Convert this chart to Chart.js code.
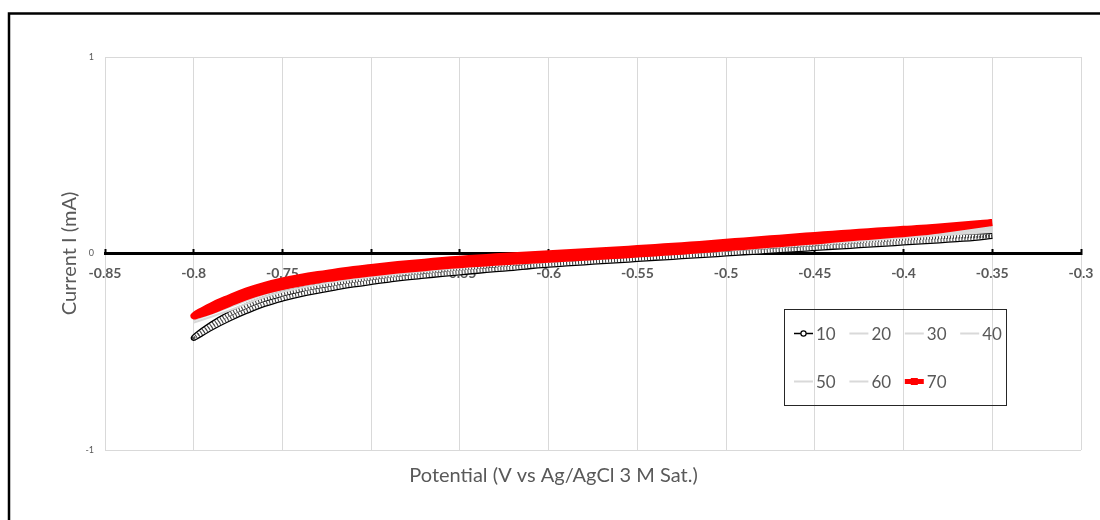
<!DOCTYPE html>
<html>
<head>
<meta charset="utf-8">
<script src="https://cdn.jsdelivr.net/npm/chart.js@4.4.1/dist/chart.umd.min.js"></script>
<style>
  html, body { margin: 0; padding: 0; background: #ffffff; }
  canvas { display: block; }
</style>
</head>
<body>
<canvas id="cv" width="1100" height="520"></canvas>
<script>
// Potential sweep (V vs Ag/AgCl), 10 mV steps between the vertex potentials
const potential = [
  -0.80, -0.79, -0.78, -0.77, -0.76, -0.75, -0.74, -0.73, -0.72, -0.71,
  -0.70, -0.69, -0.68, -0.67, -0.66, -0.65, -0.64, -0.63, -0.62, -0.61,
  -0.60, -0.59, -0.58, -0.57, -0.56, -0.55, -0.54, -0.53, -0.52, -0.51,
  -0.50, -0.49, -0.48, -0.47, -0.46, -0.45, -0.44, -0.43, -0.42, -0.41,
  -0.40, -0.39, -0.38, -0.37, -0.36, -0.35
];

// Scan "10": current (mA) on the cathodic and anodic sweeps
const i10Cathodic = [
  -0.429, -0.377, -0.331, -0.291, -0.256, -0.229, -0.207, -0.189, -0.173, -0.158,
  -0.145, -0.133, -0.122, -0.113, -0.104, -0.096, -0.088, -0.080, -0.073, -0.064,
  -0.057, -0.051, -0.045, -0.039, -0.034, -0.028, -0.022, -0.017, -0.011, -0.006,
   0.000,  0.006,  0.011,  0.017,  0.022,  0.028,  0.034,  0.039,  0.045,  0.050,
   0.056,  0.061,  0.067,  0.073,  0.079,  0.089
];
const i10Anodic = [
  -0.429, -0.362, -0.309, -0.267, -0.232, -0.206, -0.185, -0.167, -0.152, -0.137,
  -0.124, -0.113, -0.102, -0.093, -0.084, -0.076, -0.068, -0.060, -0.053, -0.044,
  -0.037, -0.031, -0.025, -0.019, -0.014, -0.008, -0.002,  0.003,  0.009,  0.014,
   0.020,  0.026,  0.031,  0.037,  0.042,  0.048,  0.054,  0.059,  0.064,  0.069,
   0.074,  0.078,  0.082,  0.085,  0.087,  0.089
];

// Scan "70"
const i70Cathodic = [
  -0.317, -0.291, -0.254, -0.218, -0.190, -0.168, -0.150, -0.135, -0.122, -0.109,
  -0.099, -0.089, -0.080, -0.072, -0.064, -0.057, -0.051, -0.045, -0.039, -0.034,
  -0.029, -0.024, -0.019, -0.014, -0.009, -0.003,  0.003,  0.009,  0.015,  0.022,
   0.029,  0.036,  0.043,  0.050,  0.057,  0.064,  0.072,  0.080,  0.087,  0.094,
   0.101,  0.109,  0.120,  0.132,  0.145,  0.157
];
const i70Anodic = [
  -0.317, -0.266, -0.226, -0.190, -0.162, -0.140, -0.122, -0.107, -0.094, -0.081,
  -0.071, -0.061, -0.052, -0.044, -0.036, -0.029, -0.023, -0.017, -0.011, -0.006,
  -0.001,  0.004,  0.009,  0.014,  0.019,  0.025,  0.031,  0.037,  0.043,  0.050,
   0.057,  0.064,  0.071,  0.078,  0.085,  0.092,  0.098,  0.105,  0.111,  0.117,
   0.123,  0.128,  0.135,  0.142,  0.150,  0.157
];

// Scans "20" to "60" on a coarser potential grid
const potentialCoarse = [-0.80, -0.78, -0.76, -0.74, -0.72, -0.70, -0.65, -0.60, -0.55, -0.50, -0.45, -0.40, -0.35];
const i20 = [-0.352, -0.290, -0.220, -0.175, -0.143, -0.118, -0.072, -0.042, -0.014, 0.016, 0.048, 0.080, 0.110];
const i30 = [-0.340, -0.273, -0.207, -0.165, -0.135, -0.111, -0.067, -0.038, -0.010, 0.021, 0.054, 0.087, 0.120];
const i40 = [-0.333, -0.264, -0.199, -0.158, -0.130, -0.106, -0.063, -0.035, -0.007, 0.024, 0.058, 0.092, 0.128];
const i50 = [-0.327, -0.259, -0.194, -0.153, -0.126, -0.103, -0.060, -0.032, -0.005, 0.027, 0.061, 0.096, 0.135];
const i60 = [-0.322, -0.256, -0.191, -0.151, -0.123, -0.100, -0.058, -0.030, -0.003, 0.029, 0.063, 0.099, 0.142];

const seriesLabels = ['10', '20', '30', '40', '50', '60', '70'];

const xTicks = [-0.85, -0.80, -0.75, -0.70, -0.65, -0.60, -0.55, -0.50, -0.45, -0.40, -0.35, -0.30];
const xTickLabels = ['-0.85', '-0.8', '-0.75', '-0.7', '-0.65', '-0.6', '-0.55', '-0.5', '-0.45', '-0.4', '-0.35', '-0.3'];
const yTicks = [-1, 0, 1];
const yTickLabels = ['-1', '0', '1'];

// Sweep from the upper vertex down to -0.8 V, then back up
function cycle(xs, cathodic, anodic) {
  const down = xs.map((x, i) => ({ x, y: cathodic[i] })).reverse();
  const up = xs.map((x, i) => ({ x, y: anodic[i] }));
  return down.concat(up.slice(1));
}
function sweep(xs, ys) {
  return xs.map((x, i) => ({ x, y: ys[i] }));
}

const GRAY = '#d9d9d9';
const TEXT = '#595959';

const cycle10 = cycle(potential, i10Cathodic, i10Anodic);
const cycle70 = cycle(potential, i70Cathodic, i70Anodic);

const datasets = [
  { label: '70', data: cycle70, borderColor: '#ff0000', borderWidth: 7, order: 0,
    legendMarker: 'rect', legendWidth: 5 },
  { label: '60', data: sweep(potentialCoarse, i60), borderColor: GRAY, borderWidth: 2, order: 1 },
  { label: '50', data: sweep(potentialCoarse, i50), borderColor: GRAY, borderWidth: 2, order: 2 },
  { label: '40', data: sweep(potentialCoarse, i40), borderColor: GRAY, borderWidth: 2, order: 3 },
  { label: '30', data: sweep(potentialCoarse, i30), borderColor: GRAY, borderWidth: 2, order: 4 },
  { label: '20', data: sweep(potentialCoarse, i20), borderColor: GRAY, borderWidth: 2, order: 5 },
  // scan 10 drawn as a chain of open circles: outline, white core, hatch
  { label: '10', data: cycle10, borderColor: '#000000', borderWidth: 6.2, order: 12,
    legendMarker: 'circle', legendWidth: 1.5 },
  { label: '10 core', data: cycle10, borderColor: '#ffffff', borderWidth: 3.6, order: 11 },
  { label: '10 hatch', data: cycle10, borderColor: 'rgba(0,0,0,0.75)', borderWidth: 3.6,
    borderDash: [1.1, 1.9], order: 10 }
];
datasets.forEach(d => {
  d.pointRadius = 0;
  d.pointHoverRadius = 0;
  d.fill = false;
  d.tension = 0.4;
});

// Boxed legend, four entries per row
const boxedLegend = {
  id: 'boxedLegend',
  afterDraw(chart) {
    const ctx = chart.ctx;
    const box = { x: 784.5, y: 309.5, w: 222, h: 96 };
    ctx.save();
    ctx.strokeStyle = '#262626';
    ctx.lineWidth = 1;
    ctx.strokeRect(box.x, box.y, box.w, box.h);
    ctx.font = '17px Lato';
    ctx.textBaseline = 'middle';
    ctx.textAlign = 'left';
    seriesLabels.forEach((name, k) => {
      const ds = chart.data.datasets.find(d => d.label === name);
      const col = k % 4, row = Math.floor(k / 4);
      const x0 = 794 + col * 55.4;
      const y = 333.5 + row * 48;
      ctx.strokeStyle = ds.borderColor;
      ctx.lineWidth = ds.legendWidth || 2;
      ctx.beginPath();
      ctx.moveTo(x0, y);
      ctx.lineTo(x0 + 19, y);
      ctx.stroke();
      const cx = x0 + 9.5;
      if (ds.legendMarker === 'circle') {
        ctx.fillStyle = '#ffffff';
        ctx.lineWidth = 1.2;
        ctx.beginPath();
        ctx.arc(cx, y, 2.6, 0, Math.PI * 2);
        ctx.fill();
        ctx.stroke();
      } else if (ds.legendMarker === 'rect') {
        ctx.fillStyle = ds.borderColor;
        ctx.fillRect(cx - 3.5, y - 3.5, 7, 7);
      }
      ctx.fillStyle = TEXT;
      ctx.fillText(name, x0 + 22, y + 1);
    });
    ctx.restore();
  }
};

// Frame around the figure
const frame = {
  id: 'frame',
  beforeDraw(chart) {
    const ctx = chart.ctx;
    ctx.save();
    ctx.fillStyle = '#ffffff';
    ctx.fillRect(0, 0, chart.width, chart.height);
    ctx.strokeStyle = '#000000';
    ctx.lineWidth = 2.5;
    ctx.strokeRect(9, 13.5, 1200, 600);
    ctx.restore();
  }
};

new Chart(document.getElementById('cv'), {
  type: 'line',
  data: { datasets },
  plugins: [frame, boxedLegend],
  options: {
    responsive: false,
    animation: false,
    devicePixelRatio: 1,
    layout: { padding: { left: 26, top: 57, right: 19, bottom: 0 } },
    plugins: {
      legend: { display: false },
      tooltip: { enabled: false },
      // potential axis caption, centred on the whole figure
      title: {
        display: true, position: 'bottom', text: 'Potential (V vs Ag/AgCl 3 M Sat.)',
        color: TEXT, font: { family: 'Lato', size: 20, weight: 'normal' },
        padding: { top: 14, bottom: 32 }
      }
    },
    scales: {
      x: {
        type: 'linear',
        position: { y: 0 },
        min: -0.85,
        max: -0.3,
        afterBuildTicks: s => { s.ticks = xTicks.map(v => ({ value: v })); },
        // end labels may overhang; the outer layout padding already leaves room
        afterFit: s => { s.paddingLeft = 0; s.paddingRight = 0; },
        grid: { color: GRAY, lineWidth: 1, tickColor: '#000000', tickWidth: 2, tickLength: -6 },
        border: { display: true, color: '#000000', width: 3 },
        ticks: {
          autoSkip: false, maxRotation: 0, padding: 18, color: TEXT,
          font: { family: 'Lato', size: 14, weight: 'bold' },
          callback: (v, i) => xTickLabels[i]
        }
      },
      y: {
        type: 'linear',
        position: 'left',
        min: -1,
        max: 1,
        afterBuildTicks: s => { s.ticks = yTicks.map(v => ({ value: v })); },
        afterFit: s => { s.width = 79; },
        grid: { color: GRAY, lineWidth: 1, drawTicks: false },
        border: { display: false },
        ticks: {
          padding: 11, color: TEXT, font: { family: 'Lato', size: 9 },
          callback: (v, i) => yTickLabels[i]
        },
        title: {
          display: true, text: 'Current I (mA)', color: TEXT,
          font: { family: 'Lato', size: 20 }, padding: { top: 32, bottom: 0 }
        }
      }
    }
  }
});
</script>
</body>
</html>
